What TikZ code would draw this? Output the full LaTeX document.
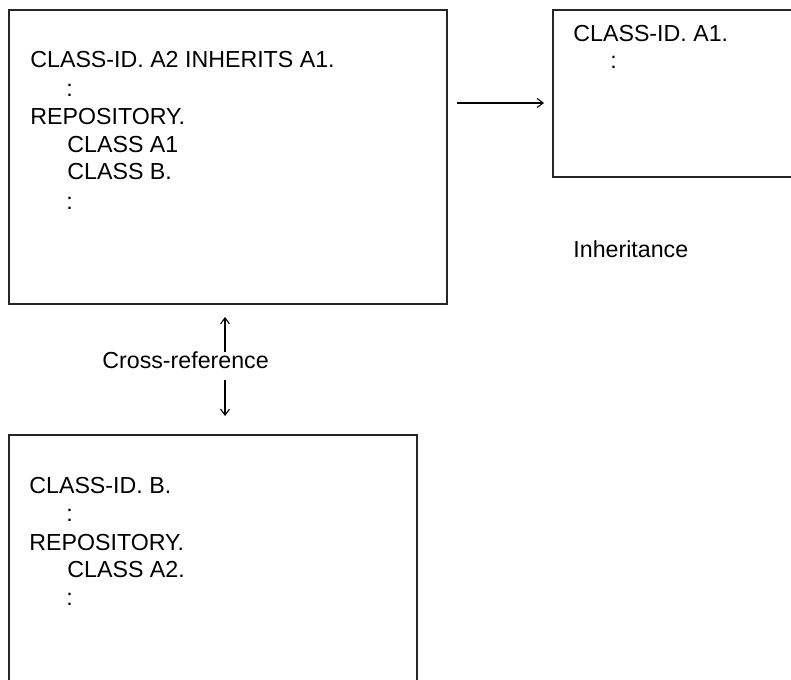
\documentclass[tikz,border=0pt]{standalone}
\usepackage{fontspec}
\setmainfont{Liberation Sans}
\usetikzlibrary{arrows.meta}
\begin{document}
\begin{tikzpicture}[x=0.5pt,y=-0.5pt,
  box/.style={draw=black!85, line width=1pt, anchor=north west, inner sep=0pt},
  txt/.style={anchor=base west, inner sep=0pt, font=\fontsize{11.6pt}{14pt}\selectfont},
  conn/.style={-{Straight Barb[length=3pt,width=4.5pt]}, line width=0.55pt}]
\useasboundingbox (0,0) rectangle (791,679);
\clip (0,0) rectangle (791,679);
% boxes
\node[box, minimum width=219pt, minimum height=147pt] (b1) at (8,9) {};
\node[box, minimum width=130pt, minimum height=83.5pt] (b2) at (552,9) {};
\node[box, minimum width=204pt, minimum height=140pt] (b3) at (8,434) {};
% box 1 text
\node[txt] (t11) at (30,68) {CLASS-ID. A2 INHERITS A1.};
\node[txt] (t12) at (66,97) {:};
\node[txt] (t13) at (30,125) {REPOSITORY.};
\node[txt] (t14) at (67,153) {CLASS A1};
\node[txt] (t15) at (67,180) {CLASS B.};
\node[txt] (t16) at (66,209) {:};
% box 2 text
\node[txt] (t21) at (573,42) {CLASS-ID. A1.};
\node[txt] (t22) at (610,69) {:};
% box 3 text
\node[txt] (t31) at (29,493) {CLASS-ID. B.};
\node[txt] (t32) at (66,521) {:};
\node[txt] (t33) at (29,550) {REPOSITORY.};
\node[txt] (t34) at (67,577) {CLASS A2.};
\node[txt] (t35) at (66,605) {:};
% labels
\node[txt] (inh) at (573,257) {Inheritance};
\node[txt] (xref) at (102,368) {Cross-reference};
% connectors
\coordinate (h1) at (457,103);
\coordinate (h2) at (544,103);
\coordinate (u1) at (225,352);
\coordinate (u2) at (225,317);
\coordinate (d1) at (225,380);
\coordinate (d2) at (225,416);
\draw[conn] (h1) -- (h2);
\draw[conn] (u1) -- (u2);
\draw[conn] (d1) -- (d2);
\end{tikzpicture}
\end{document}
